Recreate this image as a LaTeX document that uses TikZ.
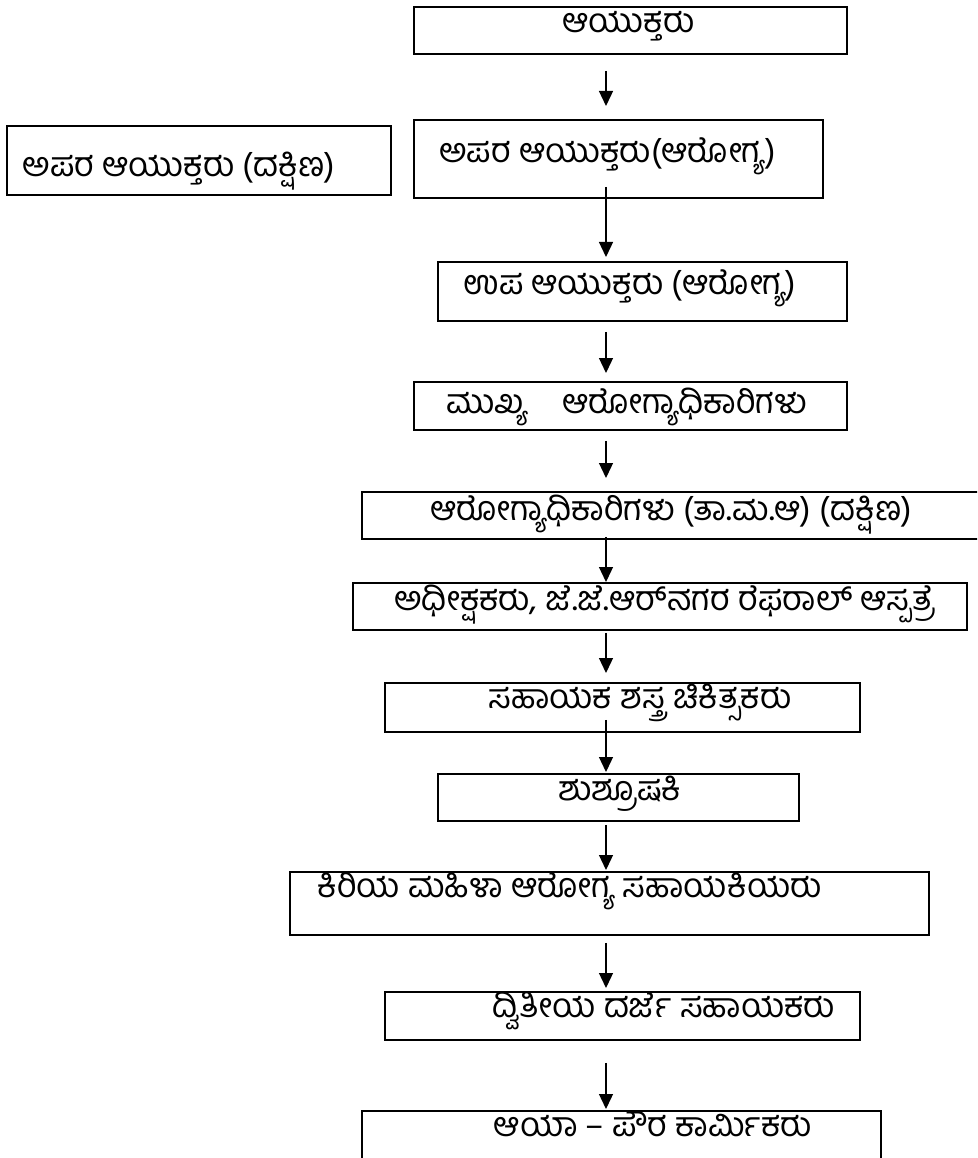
\documentclass[tikz,border=0pt]{standalone}
\usepackage{fontspec}
\newfontfamily\kn[Script=Kannada]{Hind Mysuru}
\usetikzlibrary{arrows.meta}
\begin{document}
\begin{tikzpicture}[x=1pt,y=-1pt,
  box/.style={draw, line width=1.8pt, inner sep=0pt, anchor=north west},
  lbl/.style={font=\kn\fontsize{34}{36}\selectfont, inner sep=0pt, anchor=base},
  arr/.style={line width=1.3pt, -{Triangle[length=15pt,width=14pt]}}]
\useasboundingbox (0,0) rectangle (977,1158);
\clip (0,0) rectangle (977,1158);
\coordinate (ax) at (606,0);
% boxes
\node[box, minimum width=433pt, minimum height=47pt] (b1) at (413,6) {};
\node[box, minimum width=384pt, minimum height=69pt] (bL) at (6,125) {};
\node[box, minimum width=409pt, minimum height=78pt] (b3) at (413,119) {};
\node[box, minimum width=409pt, minimum height=59pt] (b4) at (437,261) {};
\node[box, minimum width=433pt, minimum height=48pt] (b5) at (413,381) {};
\node[box, minimum width=700pt, minimum height=47pt] (b6) at (361,491) {};
\node[box, minimum width=614pt, minimum height=47pt] (b7) at (352,582) {};
\node[box, minimum width=475pt, minimum height=49pt] (b8) at (384,682) {};
\node[box, minimum width=361pt, minimum height=47pt] (b9) at (437,773) {};
\node[box, minimum width=639pt, minimum height=63pt] (b10) at (289,871) {};
\node[box, minimum width=475pt, minimum height=48pt] (b11) at (384,991) {};
\node[box, minimum width=519pt, minimum height=100pt] (b12) at (361,1110) {};
% labels
\node[lbl] (t1) at (628.5,33) {ಆಯುಕ್ತರು};
\node[lbl] (tL) at (179,177) {ಅಪರ ಆಯುಕ್ತರು (ದಕ್ಷಿಣ)};
\node[lbl] (t3) at (607.5,163) {ಅಪರ ಆಯುಕ್ತರು(ಆರೋಗ್ಯ)};
\node[lbl] (t4) at (630,294) {ಉಪ ಆಯುಕ್ತರು (ಆರೋಗ್ಯ)};
\node[lbl] (t5) at (626.5,413) {ಮುಖ್ಯ\quad ಆರೋಗ್ಯಾಧಿಕಾರಿಗಳು};
\node[lbl] (t6) at (671,520) {ಆರೋಗ್ಯಾಧಿಕಾರಿಗಳು (ತಾ.ಮ.ಆ) (ದಕ್ಷಿಣ)};
\node[lbl] (t7) at (664.5,610) {ಅಧೀಕ್ಷಕರು, ಜೆ.ಜೆ.ಆರ್‌ನಗರ ರೆಫರಾಲ್ ಆಸ್ಪತ್ರೆ};
\node[lbl] (t8) at (640,708) {ಸಹಾಯಕ ಶಸ್ತ್ರ ಚಿಕಿತ್ಸಕರು};
\node[lbl] (t9) at (620,800) {ಶುಶ್ರೂಷಕಿ};
\node[lbl] (t10) at (569.5,897) {ಕಿರಿಯ ಮಹಿಳಾ ಆರೋಗ್ಯ ಸಹಾಯಕಿಯರು};
\node[lbl] (t11) at (663.5,1017) {ದ್ವಿತೀಯ ದರ್ಜೆ ಸಹಾಯಕರು};
\node[lbl] (t12) at (653,1136) {ಆಯಾ – ಪೌರ ಕಾರ್ಮಿಕರು};
% arrows
\draw[arr, shorten <=16pt, shorten >=13pt] (b1.south -| ax) -- (b3.north -| ax);
\draw[arr, shorten <=-12pt, shorten >=4pt] (b3.south -| ax) -- (b4.north -| ax);
\draw[arr, shorten <=10pt, shorten >=8pt] (b4.south -| ax) -- (b5.north -| ax);
\draw[arr, shorten <=10pt, shorten >=13pt] (b5.south -| ax) -- (b6.north -| ax);
\draw[arr, shorten <=-3pt, shorten >=0pt] (b6.south -| ax) -- (b7.north -| ax);
\draw[arr, shorten <=2pt, shorten >=9pt] (b7.south -| ax) -- (b8.north -| ax);
\draw[arr, shorten <=-13pt, shorten >=1pt] (b8.south -| ax) -- (b9.north -| ax);
\draw[arr, shorten <=3pt, shorten >=1pt] (b9.south -| ax) -- (b10.north -| ax);
\draw[arr, shorten <=7pt, shorten >=3pt] (b10.south -| ax) -- (b11.north -| ax);
\draw[arr, shorten <=22pt, shorten >=1pt] (b11.south -| ax) -- (b12.north -| ax);
\end{tikzpicture}
\end{document}
